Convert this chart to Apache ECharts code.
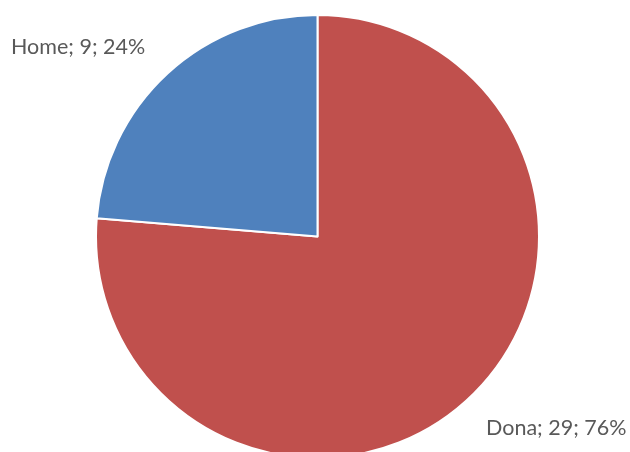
<!DOCTYPE html>
<html><head><meta charset="utf-8">
<script src="https://cdn.jsdelivr.net/npm/echarts@6/dist/echarts.min.js"></script>
<style>html,body{margin:0;padding:0;background:#fff}#c{width:630px;height:452px}</style>
</head><body><div id="c"></div>
<script>
const categories = ['Dona', 'Home'];
const values = [29, 9];
const colors = ['#C0504D', '#4F81BD'];
const labelPos = [[486, 428, 'left'], [11, 47, 'left']];

const chart = echarts.init(document.getElementById('c'), null, {renderer: 'canvas'});
chart.setOption({
  animation: false,
  series: [{
    type: 'pie',
    center: [317.5, 236.5],
    radius: 221.5,
    startAngle: 90,
    clockwise: true,
    percentPrecision: 0,
    data: categories.map((c, i) => ({name: c, value: values[i], itemStyle: {color: colors[i]}})),
    itemStyle: {borderColor: '#fff', borderWidth: 2},
    label: {
      show: true,
      position: 'outside',
      formatter: '{b}; {c}; {d}%',
      color: '#595959',
      fontSize: 21.5,
      fontFamily: 'Lato, Open Sans, sans-serif',
      overflow: 'none',
      width: 300
    },
    labelLine: {show: false},
    labelLayout: function (p) {
      const lp = labelPos[p.dataIndex];
      return {x: lp[0], y: lp[1], align: lp[2], verticalAlign: 'middle', hideOverlap: false, moveOverlap: null};
    },
    emphasis: {disabled: true}
  }]
});
</script></body></html>
